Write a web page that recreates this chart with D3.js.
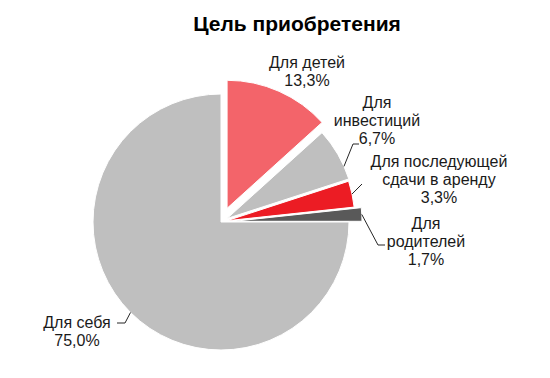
<!DOCTYPE html>
<html>
<head>
<meta charset="utf-8">
<script src="https://cdn.jsdelivr.net/npm/d3@7/dist/d3.min.js"></script>
<style>
  body { margin: 0; background: #fff; }
  text { font-family: "Liberation Sans", Arial, sans-serif; fill: #1a1a1a; }
</style>
</head>
<body>
<div id="chart"></div>
<script>
// Chart data
const categories = ['Для детей', 'Для инвестиций', 'Для последующей сдачи в аренду', 'Для родителей', 'Для себя'];
const shares = [13.3, 6.7, 3.3, 1.7, 75.0];
const shareLabels = ['13,3%', '6,7%', '3,3%', '1,7%', '75,0%'];
const nameLines = [['Для детей'], ['Для', 'инвестиций'], ['Для последующей', 'сдачи в аренду'], ['Для', 'родителей'], ['Для себя']];
const colors = ['#f3646a', '#bfbfbf', '#ec1c24', '#595959', '#bfbfbf'];

// Size
const width = 550, height = 378;
const cx = 221, cy = 222, radius = 128;

// explode distance per slice, label centre + leader elbow (layout only)
const explode = [15, 7, 6, 13, 0];
const labelPos = [
  {x: 307, y: 62},
  {x: 377, y: 102, elbow: [[353, 144], [359, 144]], at: 0.75},
  {x: 439, y: 161, elbow: [[362, 184]]},
  {x: 426, y: 223, elbow: [[378, 245], [385, 245]]},
  {x: 77, y: 322, elbow: [[125, 323], [117, 323]]}
];

const svg = d3.select('#chart').append('svg')
  .attr('width', width)
  .attr('height', height);

// Title
svg.append('text')
  .attr('x', 297)
  .attr('y', 31)
  .attr('text-anchor', 'middle')
  .attr('font-size', '21px')
  .attr('font-weight', 'bold')
  .style('fill', '#000')
  .text('Цель приобретения');

const pie = d3.pie().sort(null).value(d => d)
const arcs = pie(shares);
const arc = d3.arc().innerRadius(0).outerRadius(radius);

const pieGroup = svg.append('g')
  .attr('transform', `translate(${cx}, ${cy})`);

function offsetOf(d, i) {
  const mid = (d.startAngle + d.endAngle) / 2;
  return [Math.sin(mid) * explode[i], -Math.cos(mid) * explode[i]];
}

pieGroup.selectAll('path')
  .data(arcs)
  .enter()
  .append('path')
  .attr('d', arc)
  .attr('fill', (d, i) => colors[i])
  .attr('stroke', '#fff')
  .attr('stroke-width', 1)
  .attr('transform', (d, i) => {
    const o = offsetOf(d, i);
    return `translate(${o[0]}, ${o[1]})`;
  });

// Leader lines
const line = d3.line();
arcs.forEach((d, i) => {
  const lp = labelPos[i];
  if (!lp.elbow) return;
  const t = lp.at == null ? 0.5 : lp.at;
  const a = d.startAngle + (d.endAngle - d.startAngle) * t;
  const o = offsetOf(d, i);
  const start = [cx + o[0] + Math.sin(a) * radius, cy + o[1] - Math.cos(a) * radius];
  svg.append('path')
    .attr('d', line([start].concat(lp.elbow)))
    .attr('fill', 'none')
    .attr('stroke', '#262626')
    .attr('stroke-width', 1);
});

// Labels
const lineH = 18;
arcs.forEach((d, i) => {
  const lp = labelPos[i];
  const lines = nameLines[i].concat([shareLabels[i]]);
  const t = svg.append('text')
    .attr('text-anchor', 'middle')
    .attr('font-size', '16px');
  lines.forEach((s, k) => {
    t.append('tspan')
      .attr('x', lp.x)
      .attr('y', lp.y + k * lineH + 6)
      .text(s);
  });
});
</script>
</body>
</html>
